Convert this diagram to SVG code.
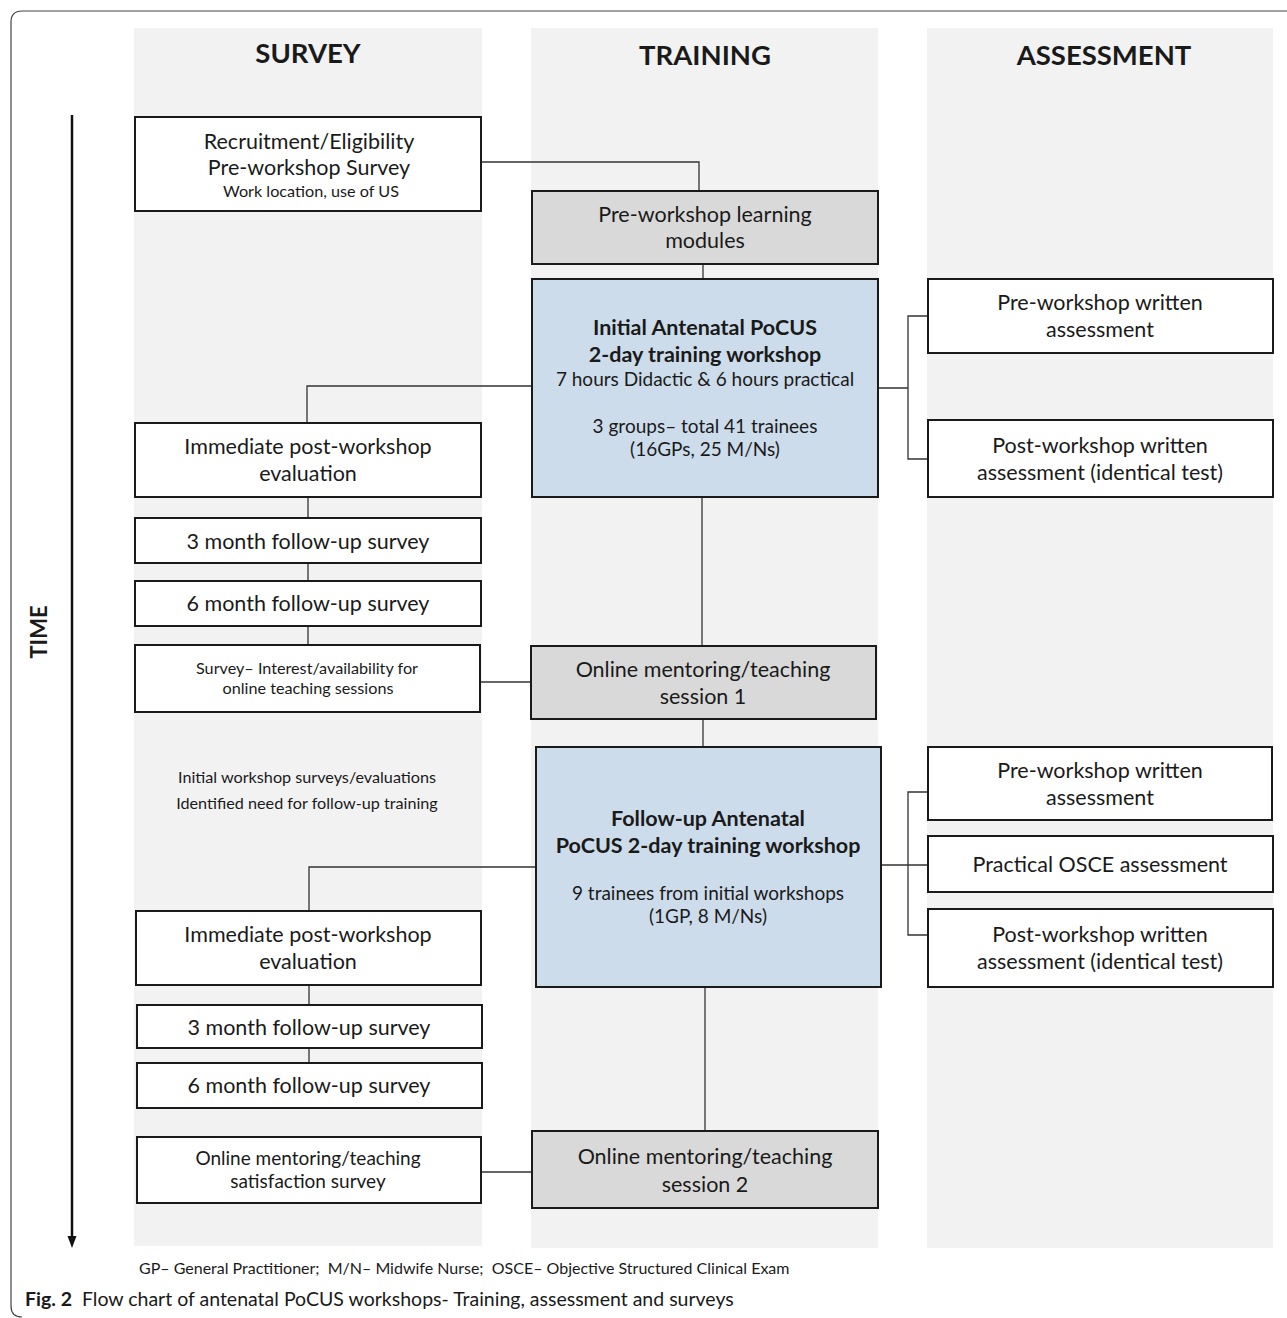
<svg xmlns="http://www.w3.org/2000/svg" width="1287" height="1318" viewBox="0 0 1287 1318">
<style>
text{font-family:Lato,"Open Sans","Liberation Sans",sans-serif;fill:#1a1a1a;text-anchor:middle}
.col{fill:#f2f2f2}
.hdr{font-size:27.5px;font-weight:bold}
.box{fill:#fff;stroke:#1a1a1a;stroke-width:2}
.grey{fill:#d9d9d9;stroke:#1a1a1a;stroke-width:2}
.blue{fill:#cddceb;stroke:#1a1a1a;stroke-width:2}
.t20{font-size:21.5px}
.t18{font-size:19px}
.t15{font-size:16.2px}
.b{font-weight:bold}
.con{fill:none;stroke:#333;stroke-width:1.3}
</style>
<rect width="1287" height="1318" fill="#fff"/>
<path d="M1287,11 L22,11 Q11,11 11,22 L11,1306 Q11,1317 22,1317" fill="none" stroke="#444" stroke-width="1.2"/>
<g id="columns">
<rect class="col" x="134" y="28" width="348" height="1218"/>
<rect class="col" x="531" y="28" width="347" height="1220"/>
<rect class="col" x="927" y="28" width="346" height="1220"/>
<text class="hdr" x="308" y="63">SURVEY</text>
<text class="hdr" x="705" y="65">TRAINING</text>
<text class="hdr" x="1104" y="65">ASSESSMENT</text>
</g>
<g id="time">
<line x1="72" y1="115" x2="72" y2="1238" stroke="#111" stroke-width="2.5"/>
<polygon points="67.5,1236 76.5,1236 72,1248" fill="#111"/>
<text x="41" y="632" transform="rotate(-90 41 632)" style="font-size:22px;font-weight:bold;dominant-baseline:middle">TIME</text>
</g>
<g id="connectors">
<path class="con" d="M481,162 H699 V191"/>
<path class="con" d="M703,264 V279"/>
<path class="con" d="M532,386 H307 V423"/>
<path class="con" d="M308,497 V518 M308,563 V581 M308,626 V645"/>
<path class="con" d="M480,682 H531"/>
<path class="con" d="M702,497 V646"/>
<path class="con" d="M703,719 V747"/>
<path class="con" d="M878,388 H908 M928,316 H908 V459 H928"/>
<path class="con" d="M536,867 H309 V911"/>
<path class="con" d="M309,985 V1005 M309,1048 V1063"/>
<path class="con" d="M481,1172 H532"/>
<path class="con" d="M705,987 V1131"/>
<path class="con" d="M881,865 H928 M928,792 H908 V935 H928"/>
</g>
<g id="n-recruit">
<rect class="box" x="135" y="117" width="346" height="94"/>
<text class="t20" x="309" y="149">Recruitment/Eligibility</text>
<text class="t20" x="309" y="175">Pre-workshop Survey</text>
<text class="t15" x="311" y="197">Work location, use of US</text>
</g>
<g id="n-imm1">
<rect class="box" x="135" y="423" width="346" height="74"/>
<text class="t20" x="308" y="454">Immediate post-workshop</text>
<text class="t20" x="308" y="481">evaluation</text>
</g>
<g id="n-3m1">
<rect class="box" x="135" y="518" width="346" height="45"/>
<text class="t20" x="308" y="549">3 month follow-up survey</text>
</g>
<g id="n-6m1">
<rect class="box" x="135" y="581" width="346" height="45"/>
<text class="t20" x="308" y="611">6 month follow-up survey</text>
</g>
<g id="n-interest">
<rect class="box" x="135" y="645" width="345" height="67"/>
<text class="t15" x="307" y="674">Survey– Interest/availability for</text>
<text class="t15" x="308" y="694">online teaching sessions</text>
</g>
<g id="n-note">
<text class="t15" x="307" y="783">Initial workshop surveys/evaluations</text>
<text class="t15" x="307" y="809">Identified need for follow-up training</text>
</g>
<g id="n-imm2">
<rect class="box" x="136" y="911" width="345" height="74"/>
<text class="t20" x="308" y="942">Immediate post-workshop</text>
<text class="t20" x="308" y="969">evaluation</text>
</g>
<g id="n-3m2">
<rect class="box" x="137" y="1005" width="345" height="43"/>
<text class="t20" x="309" y="1035">3 month follow-up survey</text>
</g>
<g id="n-6m2">
<rect class="box" x="137" y="1063" width="345" height="45"/>
<text class="t20" x="309" y="1093">6 month follow-up survey</text>
</g>
<g id="n-satisf">
<rect class="box" x="137" y="1137" width="344" height="66"/>
<text class="t18" x="308" y="1165">Online mentoring/teaching</text>
<text class="t18" x="308" y="1188">satisfaction survey</text>
</g>
<g id="n-modules">
<rect class="grey" x="532" y="191" width="346" height="73"/>
<text class="t20" x="705" y="222">Pre-workshop learning</text>
<text class="t20" x="705" y="248">modules</text>
</g>
<g id="n-initial">
<rect class="blue" x="532" y="279" width="346" height="218"/>
<text class="t20 b" x="705" y="335">Initial Antenatal PoCUS</text>
<text class="t20 b" x="705" y="362">2-day training workshop</text>
<text class="t18" x="705" y="386">7 hours Didactic &amp; 6 hours practical</text>
<text class="t18" x="705" y="433">3 groups– total 41 trainees</text>
<text class="t18" x="705" y="456">(16GPs, 25 M/Ns)</text>
</g>
<g id="n-session1">
<rect class="grey" x="531" y="646" width="345" height="73"/>
<text class="t20" x="703" y="677">Online mentoring/teaching</text>
<text class="t20" x="703" y="704">session 1</text>
</g>
<g id="n-followup">
<rect class="blue" x="536" y="747" width="345" height="240"/>
<text class="t20 b" x="708" y="826">Follow-up Antenatal</text>
<text class="t20 b" x="708" y="853">PoCUS 2-day training workshop</text>
<text class="t18" x="708" y="900">9 trainees from initial workshops</text>
<text class="t18" x="708" y="923">(1GP, 8 M/Ns)</text>
</g>
<g id="n-session2">
<rect class="grey" x="532" y="1131" width="346" height="77"/>
<text class="t20" x="705" y="1164">Online mentoring/teaching</text>
<text class="t20" x="705" y="1192">session 2</text>
</g>
<g id="n-pre1">
<rect class="box" x="928" y="279" width="345" height="74"/>
<text class="t20" x="1100" y="310">Pre-workshop written</text>
<text class="t20" x="1100" y="337">assessment</text>
</g>
<g id="n-post1">
<rect class="box" x="928" y="420" width="345" height="77"/>
<text class="t20" x="1100" y="453">Post-workshop written</text>
<text class="t20" x="1100" y="480">assessment (identical test)</text>
</g>
<g id="n-pre2">
<rect class="box" x="928" y="747" width="344" height="73"/>
<text class="t20" x="1100" y="778">Pre-workshop written</text>
<text class="t20" x="1100" y="805">assessment</text>
</g>
<g id="n-osce">
<rect class="box" x="928" y="836" width="345" height="56"/>
<text class="t20" x="1100" y="872">Practical OSCE assessment</text>
</g>
<g id="n-post2">
<rect class="box" x="928" y="909" width="345" height="78"/>
<text class="t20" x="1100" y="942">Post-workshop written</text>
<text class="t20" x="1100" y="969">assessment (identical test)</text>
</g>
<g id="caption">
<text x="139" y="1274" style="font-size:16px;text-anchor:start;white-space:pre">GP– General Practitioner;  M/N– Midwife Nurse;  OSCE– Objective Structured Clinical Exam</text>
<text x="25" y="1306" style="font-size:19.5px;text-anchor:start;white-space:pre"><tspan font-weight="bold">Fig. 2</tspan>  Flow chart of antenatal PoCUS workshops- Training, assessment and surveys</text>
</g>
</svg>
